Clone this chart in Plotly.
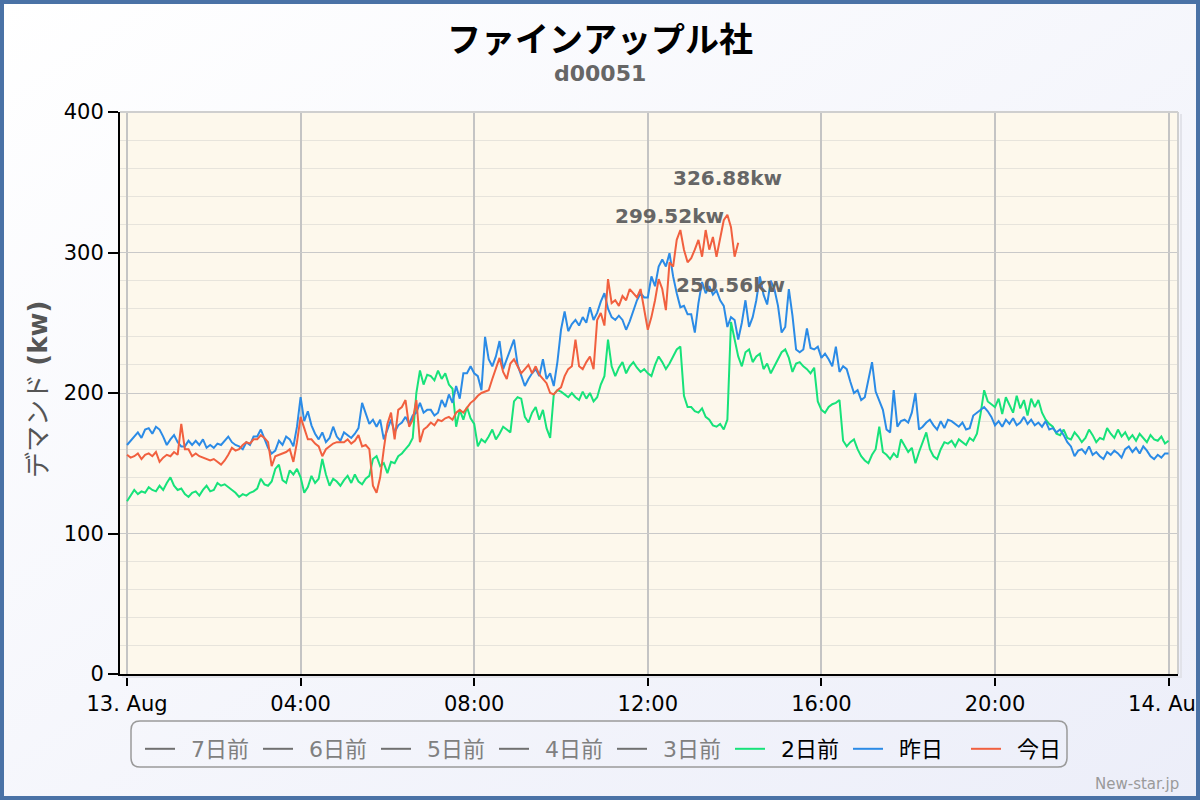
import base64
import pandas as pd
import plotly.graph_objects as go

# ---------------- data ----------------
TITLE = "ファインアップル社"
SUBTITLE = "d00051"
Y_TITLE = "デマンド <b>(kw)</b>"
CREDIT = "New-star.jp"
DAY_START = "2024-08-13 00:00"
STEP_MIN = 5

x_tick_hours = [0, 4, 8, 12, 16, 20, 24]
x_tick_text = ["13. Aug", "04:00", "08:00", "12:00", "16:00", "20:00", "14. Aug"]
y_tick_vals = [0, 100, 200, 300, 400]

# series hidden in the reference (legend only, no visible values)
hidden_names = ["7日前", "6日前", "5日前", "4日前", "3日前"]
hidden_values = [[None], [None], [None], [None], [None]]

# 2日前 (5-minute readings, one row per hour)
two_days_ago = [
    123, 127, 131, 128, 130, 129, 133, 131, 130, 134, 131, 136,
    140, 134, 131, 132, 128, 126, 129, 130, 127, 131, 134, 130,
    131, 136, 134, 135, 133, 131, 129, 126, 128, 127, 129, 130,
    132, 139, 135, 134, 137, 146, 149, 138, 136, 145, 142, 146,
    140, 129, 133, 141, 136, 139, 153, 142, 134, 139, 137, 134,
    138, 141, 136, 142, 137, 135, 139, 141, 153, 155, 148, 150,
    143, 151, 150, 155, 157, 160, 163, 168, 200, 216, 206, 213,
    212, 209, 216, 210, 214, 206, 203, 176, 188, 181, 190, 182,
    178, 162, 167, 165, 169, 174, 167, 171, 176, 174, 172, 194,
    197, 196, 183, 179, 186, 190, 181, 188, 175, 168, 199, 202,
    201, 199, 197, 200, 197, 195, 201, 196, 200, 194, 197, 206,
    212, 238, 219, 212, 218, 222, 214, 219, 222, 218, 215, 217,
    214, 212, 220, 226, 222, 217, 221, 226, 231, 233, 198, 190,
    190, 187, 186, 189, 183, 181, 177, 176, 178, 174, 181, 250.56,
    238, 226, 219, 229, 231, 222, 226, 228, 217, 221, 214, 219,
    223, 229, 231, 225, 215, 221, 222, 219, 217, 214, 218, 194,
    188, 186, 190, 192, 193, 195, 166, 162, 165, 167, 160, 155,
    152, 150, 156, 160, 176, 158, 156, 153, 157, 154, 167, 162,
    158, 161, 150, 158, 165, 172, 160, 155, 153, 160, 165, 164,
    166, 162, 167, 165, 163, 168, 166, 171, 185, 202, 194, 192,
    190, 196, 185, 197, 192, 186, 198, 189, 195, 184, 196, 190,
    195, 186, 181, 178, 176, 171, 170, 174, 168, 167, 172, 169,
    165, 168, 174, 170, 165, 168, 167, 175, 171, 168, 174, 169,
    172, 167, 170, 166, 171, 168, 165, 170, 167, 166, 169, 164,
    166,
]

# 昨日
yesterday = [
    163, 166, 169, 172, 168, 174, 175, 171, 176, 174, 169, 163,
    167, 170, 165, 162, 162, 166, 163, 166, 163, 167, 161, 163,
    161, 164, 163, 166, 169, 165, 163, 162, 160, 165, 163, 169,
    169, 174, 168, 161, 157, 159, 166, 163, 169, 167, 162, 176,
    197, 180, 187, 177, 171, 167, 172, 165, 168, 176, 169, 166,
    172, 170, 168, 171, 175, 193, 186, 178, 181, 176, 181, 167,
    174, 181, 172, 177, 179, 183, 178, 184, 186, 193, 186, 188,
    188, 184, 186, 195, 190, 199, 193, 205, 196, 214, 214, 219,
    214, 212, 202, 240, 224, 219, 226, 237, 217, 224, 230, 238,
    220, 212, 205, 210, 214, 217, 212, 224, 210, 214, 205, 222,
    245, 258, 244, 249, 252, 248, 254, 250, 261, 252, 257, 265,
    271, 260, 254, 252, 255, 252, 245, 251, 258, 266, 271, 268,
    268, 283, 276, 290, 295, 290, 299.52, 283, 271, 261, 262, 256,
    256, 243, 264, 279, 271, 276, 270, 273, 266, 262, 247, 254,
    252, 238, 250, 266, 247, 254, 266, 283, 270, 263, 280, 274,
    262, 243, 247, 274, 255, 231, 229, 231, 246, 232, 231, 233,
    225, 228, 224, 219, 233, 215, 219, 217, 208, 200, 202, 195,
    197, 210, 222, 201, 194, 188, 174, 172, 202, 176, 180, 181,
    179, 186, 200, 174, 176, 179, 181, 177, 174, 180, 175, 181,
    180, 178, 176, 179, 174, 175, 184, 186, 188, 190, 187, 183,
    177, 180, 176, 181, 178, 182, 177, 179, 183, 178, 181, 177,
    179, 176, 180, 174, 175, 172, 174, 170, 165, 162, 155, 159,
    160, 157, 162, 156, 158, 155, 153, 158, 156, 159, 157, 154,
    160, 162, 158, 161, 157, 162, 159, 155, 153, 156, 154, 157,
    157,
]

# 今日
today = [
    156, 154, 155, 157, 153, 156, 157, 155, 158, 151, 154, 156,
    155, 158, 156, 178, 160, 160, 155, 157, 155, 154, 153, 152,
    153, 151, 149, 152, 156, 161, 159, 160, 163, 165, 164, 167,
    167, 170, 168, 165, 148, 155, 156, 157, 158, 160, 151, 165,
    183, 175, 167, 167, 164, 162, 155, 160, 162, 164, 165, 165,
    165, 167, 164, 166, 170, 162, 163, 160, 134, 129, 140, 160,
    178, 186, 167, 188, 190, 195, 176, 181, 195, 165, 174, 176,
    179, 177, 181, 180, 182, 183, 181, 186, 188, 186, 190, 193,
    195, 198, 200, 201, 202, 210, 218, 225, 215, 210, 221, 224,
    219, 214, 217, 220, 214, 219, 213, 210, 207, 200, 199, 202,
    204, 212, 217, 219, 238, 219, 217, 222, 226, 217, 252, 257,
    248, 281, 264, 266, 262, 269, 266, 274, 271, 268, 274, 259,
    245, 254, 266, 281, 274, 259, 293, 290, 309, 316, 302, 293,
    296, 302, 309, 297, 316, 302, 311, 297, 309, 323, 326.88, 318,
    297, 307,
]

series = [
    ("2日前", two_days_ago, "#17e27a"),
    ("昨日", yesterday, "#2b8be6"),
    ("今日", today, "#f1603f"),
]

# ---------------- layout geometry (pixels) ----------------
W, H = 1200, 800
L, R, T, B = 120, 22, 112, 126
PW, PH = W - L - R, H - T - B


def px(xp):
    return (xp - L) / PW


def py(yp):
    return (H - B - yp) / PH


start = pd.Timestamp(DAY_START)


def times_for(values):
    return [start + pd.Timedelta(minutes=STEP_MIN * i) for i in range(len(values))]


fig = go.Figure()

for name, vals in zip(hidden_names, hidden_values):
    fig.add_trace(go.Scatter(
        x=times_for(vals), y=vals, mode="lines",
        name=f'<span style="color:#808080">\u2002{name}</span>',
        line=dict(color="#707070", width=2),
        hoverinfo="skip",
    ))

for name, vals, color in series:
    fig.add_trace(go.Scatter(
        x=times_for(vals), y=vals, mode="lines", name=f"\u2002{name}",
        line=dict(color=color, width=2),
    ))

# peak labels
annotations = []
for name, vals, color in series:
    i = max(range(len(vals)), key=lambda k: vals[k])
    annotations.append(dict(
        x=times_for(vals)[i], y=vals[i], xref="x", yref="y",
        text=f"<b>{vals[i]:.2f}kw</b>", showarrow=False, yshift=37,
        font=dict(family="DejaVu Sans", size=20, color="#666666"),
    ))

annotations += [
    dict(x=px(600), y=py(37), xref="paper", yref="paper", text=f"<b>{TITLE}</b>",
         showarrow=False, xanchor="center", yanchor="middle",
         font=dict(family="Noto Sans CJK JP", size=34, color="#000000")),
    dict(x=px(600), y=py(73), xref="paper", yref="paper", text=f"<b>{SUBTITLE}</b>",
         showarrow=False, xanchor="center", yanchor="middle",
         font=dict(family="DejaVu Sans", size=22, color="#666666")),
    dict(x=px(38), y=py(390), xref="paper", yref="paper", text=Y_TITLE, textangle=-90,
         showarrow=False, xanchor="center", yanchor="middle",
         font=dict(family="DejaVu Sans, Noto Sans CJK JP", size=26, color="#555555")),
    dict(x=px(1181), y=py(784), xref="paper", yref="paper", text=CREDIT,
         showarrow=False, xanchor="right", yanchor="middle",
         font=dict(family="DejaVu Sans", size=15, color="#9a9a9a")),
]

# background gradient
svg = ('<svg xmlns="http://www.w3.org/2000/svg" width="1200" height="800" preserveAspectRatio="none">'
       '<defs><linearGradient id="g" x1="0" y1="0" x2="1" y2="1">'
       '<stop offset="0" stop-color="#ffffff"/><stop offset="1" stop-color="#eceef9"/>'
       '</linearGradient></defs><rect width="1200" height="800" fill="url(#g)"/></svg>')
src = "data:image/svg+xml;base64," + base64.b64encode(svg.encode()).decode()


def rounded_path(x0, y0, x1, y1, r):
    pts = [
        f"M {px(x0 + r)} {py(y0)}", f"L {px(x1 - r)} {py(y0)}",
        f"Q {px(x1)} {py(y0)} {px(x1)} {py(y0 + r)}", f"L {px(x1)} {py(y1 - r)}",
        f"Q {px(x1)} {py(y1)} {px(x1 - r)} {py(y1)}", f"L {px(x0 + r)} {py(y1)}",
        f"Q {px(x0)} {py(y1)} {px(x0)} {py(y1 - r)}", f"L {px(x0)} {py(y0 + r)}",
        f"Q {px(x0)} {py(y0)} {px(x0 + r)} {py(y0)}", "Z",
    ]
    return " ".join(pts)


shapes = [
    dict(type="rect", xref="paper", yref="paper", x0=0, x1=1, y0=0, y1=1,
         fillcolor="#fdf8ec", line=dict(width=0), layer="below"),
    dict(type="line", xref="paper", yref="paper", x0=0, x1=1, y0=1, y1=1,
         line=dict(color="#cfcfcf", width=2), layer="above"),
    dict(type="line", xref="paper", yref="paper", x0=1, x1=1, y0=0, y1=1,
         line=dict(color="#cfcfcf", width=2), layer="above"),
    dict(type="line", xref="paper", yref="paper", x0=px(1181), x1=px(1181), y0=py(676), y1=py(114),
         line=dict(color="#e2e3ea", width=2), layer="above"),
    dict(type="line", xref="paper", yref="paper", x0=px(122), x1=px(1182), y0=py(677), y1=py(677),
         line=dict(color="#e2e3ea", width=2), layer="above"),
    dict(type="path", xref="paper", yref="paper", path=rounded_path(131, 721, 1067, 767, 9),
         line=dict(color="#9a9a9a", width=1.5), fillcolor="rgba(0,0,0,0)", layer="above"),
    dict(type="rect", xref="paper", yref="paper", x0=px(2), x1=px(W - 2), y0=py(H - 2), y1=py(2),
         line=dict(color="#4a72a6", width=4), fillcolor="rgba(0,0,0,0)", layer="above"),
]

tick_times = [start + pd.Timedelta(hours=h) for h in x_tick_hours]

fig.update_layout(
    width=W, height=H, autosize=False,
    margin=dict(l=L, r=R, t=T, b=B, pad=0, autoexpand=False),
    paper_bgcolor="#ffffff",
    plot_bgcolor="#fdf8ec",
    showlegend=True,
    hovermode=False,
    legend=dict(orientation="h", x=px(140), xanchor="left", y=py(728), yanchor="top",
                entrywidth=73, entrywidthmode="pixels",
                font=dict(family="DejaVu Sans, Noto Sans CJK JP", size=22, color="#000000"),
                bgcolor="rgba(0,0,0,0)", borderwidth=0, itemclick=False, itemdoubleclick=False),
    annotations=annotations,
    shapes=shapes,
    images=[dict(source=src, xref="paper", yref="paper", x=px(0), y=py(0),
                 sizex=W / PW, sizey=H / PH, xanchor="left", yanchor="top",
                 sizing="stretch", layer="below")],
    xaxis=dict(
        type="date", automargin=False,
        range=[start - pd.Timedelta(minutes=9.7), start + pd.Timedelta(hours=24, minutes=13)],
        tickmode="array", tickvals=tick_times, ticktext=x_tick_text,
        ticks="outside", ticklen=10, tickwidth=2, tickcolor="#000000",
        showline=True, linecolor="#000000", linewidth=2,
        showgrid=True, gridcolor="#c4c4c4", gridwidth=2, zeroline=False,
        tickfont=dict(family="DejaVu Sans", size=21, color="#000000"),
        ticklabeloverflow="allow",
        fixedrange=True,
    ),
    yaxis=dict(
        automargin=False,
        range=[0, 400], tickmode="array", tickvals=y_tick_vals,
        ticks="outside", ticklen=10, tickwidth=2, tickcolor="#000000",
        showline=True, linecolor="#000000", linewidth=2,
        showgrid=True, gridcolor="#c9c9c9", gridwidth=1, zeroline=False,
        minor=dict(dtick=20, showgrid=True, gridcolor="#e7e4dc", gridwidth=1, ticks=""),
        tickfont=dict(family="DejaVu Sans", size=21, color="#000000"),
        fixedrange=True,
    ),
)

fig.write_html(
    "out.html",
    config={"responsive": False, "displayModeBar": False},
    post_script="document.body.style.margin='0';document.body.style.overflow='hidden';"
                "document.documentElement.style.overflow='hidden';",
)
